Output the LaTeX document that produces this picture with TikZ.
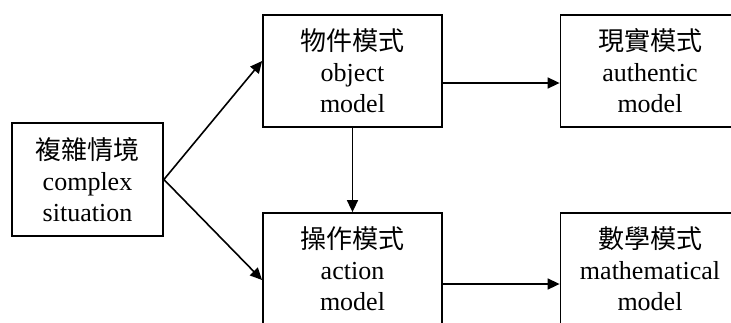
\documentclass[tikz,border=0pt]{standalone}
\usepackage{fontspec}
\setmainfont{Liberation Serif}
\newfontfamily\cjk{Noto Sans CJK TC}
\usetikzlibrary{arrows.meta}
\begin{document}
\begin{tikzpicture}[x=1pt,y=-1pt,
  box/.style={draw, line width=1.8pt, minimum width=179pt, minimum height=112pt,
    align=center, inner sep=0pt, font=\fontsize{26}{31}\selectfont},
  arr/.style={line width=1.6pt, -{Triangle[length=12pt,width=11pt]}}]
\useasboundingbox (0,0) rectangle (731,322);
\clip (0,0) rectangle (731,322);

% boxes
\node[box, minimum width=151pt, minimum height=113pt] (cx) at (87.5,179.5)
  {{\cjk 複雜情境}\\complex\\situation};
\node[box] (obj)  at (352.5,71)  {{\cjk 物件模式}\\object\\model};
\node[box] (auth) at (650,71)    {{\cjk 現實模式}\\authentic\\model};
\node[box] (act)  at (352.5,269) {{\cjk 操作模式}\\action\\model};
\node[box] (mth)  at (650,269)   {{\cjk 數學模式}\\mathematical\\model};

% connectors
\draw[arr] (cx.east) -- ([yshift=10pt]obj.west);
\draw[arr] (cx.east) -- ([yshift=-11pt]act.west);
\draw[arr] (obj.south) -- (act.north);
\draw[arr] ([yshift=-12pt]obj.east) -- ([yshift=-12pt]auth.west);
\draw[arr] ([yshift=-15pt]act.east) -- ([yshift=-15pt]mth.west);
\end{tikzpicture}
\end{document}
